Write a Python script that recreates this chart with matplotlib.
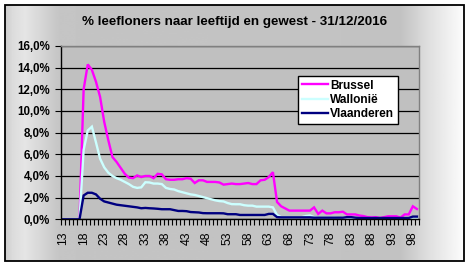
import numpy as np
import matplotlib
matplotlib.use("Agg")
import matplotlib.pyplot as plt
from matplotlib.patches import Rectangle
from matplotlib.ticker import FuncFormatter

ages = list(range(13, 100))

brussel = [0, 0, 0, 0, 0, 12.0, 14.3, 13.8, 12.7, 11.3,
           9.0, 7.3, 5.75, 5.3, 4.75, 4.2, 3.85, 3.8, 4.05, 3.9,
           4.0, 4.0, 3.8, 4.2, 4.15, 3.7, 3.65, 3.65, 3.7, 3.7,
           3.8, 3.75, 3.35, 3.6, 3.6, 3.45, 3.45, 3.45, 3.4, 3.2,
           3.25, 3.3, 3.25, 3.25, 3.3, 3.35, 3.25, 3.25, 3.6, 3.65,
           3.9, 4.35, 1.6, 1.2, 1.0, 0.8, 0.8, 0.8, 0.8, 0.8,
           0.8, 1.1, 0.5, 0.8, 0.55, 0.55, 0.65, 0.65, 0.7, 0.45,
           0.45, 0.45, 0.35, 0.3, 0.2, 0.2, 0.2, 0.12, 0.2, 0.28,
           0.28, 0.28, 0.15, 0.45, 0.45, 1.2, 0.95]

wallonie = [0, 0, 0, 0, 0, 6.4, 8.2, 8.55, 7.1, 5.6,
            4.8, 4.3, 4.0, 3.8, 3.65, 3.45, 3.25, 3.0, 2.9, 2.95,
            3.42, 3.4, 3.3, 3.3, 3.25, 2.9, 2.8, 2.75, 2.6, 2.5,
            2.4, 2.3, 2.25, 2.15, 2.05, 1.95, 1.85, 1.75, 1.68, 1.65,
            1.5, 1.4, 1.39, 1.39, 1.3, 1.26, 1.26, 1.17, 1.17, 1.17,
            1.17, 1.1, 0.4, 0.2, 0.2, 0.2, 0.2, 0.2, 0.2, 0.3,
            0.35, 0.2, 0.15, 0.15, 0.15, 0.15, 0.15, 0.12, 0.15, 0.15,
            0.1, 0.1, 0.1, 0.1, 0.1, 0.12, 0.1, 0.1, 0.1, 0.1,
            0.1, 0.1, 0.1, 0.1, 0.1, 0.15, 0.15]

vlaanderen = [0, 0, 0, 0, 0, 2.2, 2.45, 2.45, 2.3, 1.9,
              1.65, 1.55, 1.45, 1.35, 1.3, 1.25, 1.2, 1.15, 1.1, 1.02,
              1.05, 1.02, 1.0, 0.97, 0.93, 0.93, 0.93, 0.85, 0.77, 0.77,
              0.75, 0.67, 0.65, 0.63, 0.57, 0.56, 0.56, 0.56, 0.56, 0.55,
              0.47, 0.47, 0.47, 0.4, 0.4, 0.4, 0.4, 0.4, 0.4, 0.4,
              0.5, 0.5, 0.2, 0.18, 0.18, 0.18, 0.18, 0.18, 0.18, 0.18,
              0.18, 0.15, 0.15, 0.15, 0.15, 0.15, 0.15, 0.15, 0.15, 0.2,
              0.2, 0.15, 0.12, 0.12, 0.12, 0.12, 0.12, 0.12, 0.12, 0.12,
              0.12, 0.12, 0.12, 0.12, 0.12, 0.25, 0.25]

series_names = ["Brussel", "Wallonië", "Vlaanderen"]
series_colors = ["#FF00FF", "#CCFFFF", "#000080"]
title = "% leefloners naar leeftijd en gewest - 31/12/2016"

plt.rcParams['font.family'] = ['Liberation Sans', 'DejaVu Sans']

W, H = 470, 266
fig = plt.figure(figsize=(W / 100, H / 100), dpi=100)
fig.patch.set_facecolor("white")

# chart area with gradient background
bx0, by0, bx1, by1 = 5, 5, 464, 261
bg = fig.add_axes([bx0 / W, (H - by1) / H, (bx1 - bx0) / W, (by1 - by0) / H])
xs = np.linspace(bx0, bx1, 460)
shade = np.interp(xs, [5, 12, 25, 60, 400, 430, 464],
                  [0.80, 0.86, 0.90, 0.77, 0.76, 0.88, 0.99])
grad = np.tile(shade, (2, 1))
bg.imshow(grad, cmap="gray", vmin=0, vmax=1, aspect="auto",
          extent=[0, 1, 0, 1], interpolation="bilinear")
bg.set_xlim(0, 1)
bg.set_ylim(0, 1)
bg.axis("off")
fig.patches.append(Rectangle((bx0 / W, (H - by1) / H), (bx1 - bx0) / W, (by1 - by0) / H,
                             transform=fig.transFigure, fill=False,
                             edgecolor="black", linewidth=1.3, zorder=10))

# plot area
px0, py0, px1, py1 = 61, 46, 419, 219.3
ax = fig.add_axes([px0 / W, (H - py1) / H, (px1 - px0) / W, (py1 - py0) / H])
ax.set_facecolor("#C0C0C0")

x = np.arange(len(ages))
for vals, name, col in zip([brussel, wallonie, vlaanderen], series_names, series_colors):
    ax.plot(x, vals, color=col, linewidth=1.7, label=name, solid_joinstyle="miter")

ax.set_xlim(-0.5, len(ages) - 0.5)
ax.set_ylim(0, 16)
ax.set_yticks(np.arange(0, 17, 2))
ax.yaxis.set_major_formatter(FuncFormatter(lambda v, p: f"{v:.1f}%".replace(".", ",")))
ax.grid(axis="y", color="black", linewidth=0.9)
ax.set_axisbelow(True)

ax.set_xticks(x[::5])
ax.set_xticklabels([str(a) for a in ages[::5]], rotation=90, fontsize=8.8)
ax.set_xticks(np.arange(-0.5, len(ages), 1), minor=True)
ax.tick_params(axis="x", which="major", length=0, pad=9)
ax.tick_params(axis="x", which="minor", length=4, width=0.8, direction="out", color="black")
ax.tick_params(axis="y", which="major", length=4, width=0.8, direction="out", pad=4,
               labelsize=8.3)
for lab in ax.get_yticklabels():
    lab.set_fontweight("bold")

for s in ["top", "right"]:
    ax.spines[s].set_color("#808080")
    ax.spines[s].set_linewidth(1)
for s in ["left", "bottom"]:
    ax.spines[s].set_color("black")
    ax.spines[s].set_linewidth(1)

fig.text(0.5 * (82 + 387) / W, 1 - 22 / H, title, ha="center", va="center",
         fontsize=9.6, fontweight="bold")

leg = ax.legend(loc="upper left", bbox_to_anchor=((298 - px0) / (px1 - px0), 1 - (76 - py0) / (py1 - py0)),
                frameon=True, fancybox=False, framealpha=1, edgecolor="black",
                prop={"weight": "bold", "size": 8.6}, handlelength=2.2, handletextpad=0.2,
                labelspacing=0.2, borderpad=0.3, borderaxespad=0)
leg.get_frame().set_linewidth(1)

fig.savefig("out.png", dpi=100)
